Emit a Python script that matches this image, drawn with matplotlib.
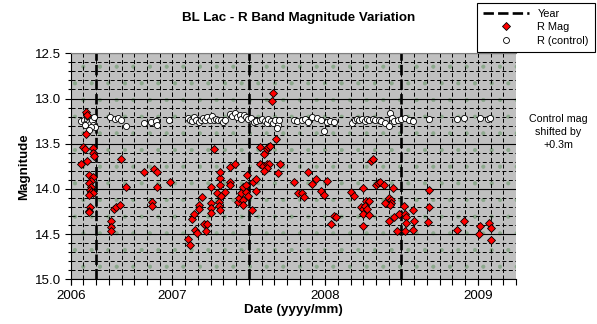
import matplotlib
matplotlib.use('Agg')
import matplotlib.pyplot as plt
from matplotlib.lines import Line2D
from matplotlib.patches import Rectangle
import numpy as np

plt.rcParams['font.family'] = ['Liberation Sans', 'DejaVu Sans']
plt.rcParams['lines.scale_dashes'] = False

# R band photometry of BL Lac (decimal year, magnitude)
rmag_year = [
    2006.434, 2006.438, 2006.436, 2006.416, 2006.429, 2006.403, 2006.443, 2006.482,
    2006.482, 2006.487, 2006.456, 2006.478, 2006.469, 2006.456, 2006.469, 2006.460,
    2006.465, 2006.478, 2006.456, 2006.460, 2006.456, 2006.456, 2006.596, 2006.596,
    2006.596, 2006.666, 2006.697, 2006.618, 2006.629, 2006.653, 2006.815, 2006.881,
    2006.899, 2006.899, 2006.864, 2006.864, 2006.982, 2007.101, 2007.114, 2007.127,
    2007.140, 2007.149, 2007.158, 2007.193, 2007.171, 2007.171, 2007.206, 2007.223,
    2007.219, 2007.254, 2007.254, 2007.254, 2007.254, 2007.272, 2007.289, 2007.302,
    2007.307, 2007.311, 2007.311, 2007.311, 2007.311, 2007.320, 2007.342, 2007.377,
    2007.377, 2007.377, 2007.412, 2007.429, 2007.438, 2007.451, 2007.460, 2007.465,
    2007.465, 2007.482, 2007.482, 2007.487, 2007.495, 2007.522, 2007.530, 2007.548,
    2007.548, 2007.570, 2007.570, 2007.601, 2007.616, 2007.627, 2007.642, 2007.675,
    2007.655, 2007.660, 2007.594, 2007.622, 2007.631, 2007.622, 2007.601, 2007.704,
    2007.688, 2007.798, 2007.820, 2007.851, 2007.859, 2007.886, 2007.916, 2007.943,
    2007.973, 2007.991, 2008.011, 2008.035, 2008.061, 2008.070, 2008.171, 2008.186,
    2008.245, 2008.302, 2008.311, 2008.267, 2008.285, 2008.232, 2008.245, 2008.258,
    2008.276, 2008.245, 2008.285, 2008.245, 2008.333, 2008.346, 2008.359, 2008.386,
    2008.447, 2008.416, 2008.429, 2008.434, 2008.425, 2008.390, 2008.421, 2008.451,
    2008.482, 2008.469, 2008.517, 2008.526, 2008.530, 2008.530, 2008.522, 2008.574,
    2008.583, 2008.574, 2008.679, 2008.679, 2008.675, 2008.864, 2008.910, 2009.013,
    2009.008, 2009.070, 2009.087, 2009.083,
]
rmag = [
    13.15, 13.18, 13.39, 13.54, 13.56, 13.73, 13.69, 13.55,
    13.60, 13.64, 13.85, 13.87, 13.91, 13.94, 13.98, 14.01,
    14.03, 14.05, 14.07, 14.20, 14.24, 14.26, 14.36, 14.42,
    14.47, 13.67, 13.98, 14.22, 14.20, 14.18, 13.81, 13.78,
    13.81, 13.98, 14.15, 14.19, 13.92, 14.55, 14.62, 14.33,
    14.28, 14.46, 14.49, 14.09, 14.18, 14.22, 14.39, 14.39,
    14.47, 13.98, 14.16, 14.21, 14.27, 13.56, 14.05, 14.14,
    14.19, 14.23, 13.96, 13.88, 13.81, 14.08, 14.03, 13.76,
    13.92, 13.96, 13.73, 14.15, 14.10, 14.04, 14.12, 14.18,
    13.98, 13.96, 14.03, 13.85, 14.08, 14.23, 13.92, 13.89,
    14.02, 13.54, 13.73, 13.61, 13.56, 13.54, 13.53, 13.45,
    13.03, 12.94, 13.75, 13.73, 13.72, 13.77, 13.80, 13.73,
    13.82, 13.92, 14.04, 14.04, 14.09, 13.81, 13.95, 13.89,
    14.02, 14.07, 13.91, 14.39, 14.30, 14.31, 14.03, 14.08,
    13.99, 13.69, 13.67, 14.13, 14.13, 14.20, 14.22, 14.19,
    14.22, 14.28, 14.29, 14.41, 13.96, 13.93, 13.92, 13.96,
    13.99, 14.10, 14.12, 14.16, 14.18, 14.16, 14.36, 14.31,
    14.28, 14.47, 14.19, 14.28, 14.31, 14.38, 14.47, 14.23,
    14.36, 14.46, 14.01, 14.20, 14.37, 14.46, 14.36, 14.41,
    14.50, 14.38, 14.43, 14.56,
]

# comparison star, raw magnitudes (plotted with an offset)
ctrl_year = [
    2006.403, 2006.421, 2006.432, 2006.443, 2006.454, 2006.460, 2006.469, 2006.476,
    2006.482, 2006.487, 2006.491, 2006.465, 2006.438, 2006.425, 2006.454, 2006.592,
    2006.625, 2006.640, 2006.666, 2006.697, 2006.815, 2006.859, 2006.892, 2006.899,
    2006.980, 2007.101, 2007.112, 2007.129, 2007.144, 2007.155, 2007.171, 2007.188,
    2007.199, 2007.215, 2007.228, 2007.243, 2007.258, 2007.272, 2007.287, 2007.298,
    2007.315, 2007.331, 2007.346, 2007.375, 2007.390, 2007.408, 2007.425, 2007.440,
    2007.451, 2007.469, 2007.484, 2007.495, 2007.517, 2007.535, 2007.550, 2007.572,
    2007.587, 2007.605, 2007.616, 2007.627, 2007.644, 2007.660, 2007.671, 2007.688,
    2007.682, 2007.697, 2007.798, 2007.813, 2007.846, 2007.868, 2007.886, 2007.916,
    2007.945, 2007.973, 2007.991, 2008.011, 2008.033, 2008.061, 2008.175, 2008.193,
    2008.208, 2008.223, 2008.241, 2008.258, 2008.274, 2008.285, 2008.311, 2008.329,
    2008.351, 2008.368, 2008.390, 2008.416, 2008.427, 2008.438, 2008.449, 2008.478,
    2008.500, 2008.526, 2008.548, 2008.574, 2008.679, 2008.866, 2008.910, 2009.013,
    2009.065, 2009.079,
]
ctrl_raw = [
    12.95, 12.94, 12.97, 12.93, 12.96, 12.98, 12.92, 12.94,
    12.99, 12.90, 13.01, 13.02, 12.89, 12.99, 13.05, 12.90,
    12.93, 12.92, 12.94, 13.00, 12.97, 12.96, 12.95, 12.99,
    12.94, 12.92, 12.94, 12.95, 12.91, 12.94, 12.96, 12.94,
    12.92, 12.94, 12.91, 12.94, 12.89, 12.94, 12.93, 12.94,
    12.94, 12.96, 12.94, 12.87, 12.89, 12.86, 12.91, 12.88,
    12.93, 12.88, 12.91, 12.93, 12.92, 12.96, 12.95, 12.94,
    12.93, 12.95, 12.97, 12.93, 12.95, 12.97, 12.94, 12.99,
    13.03, 12.94, 12.94, 12.95, 12.94, 12.93, 12.96, 12.90,
    12.92, 12.94, 13.06, 12.96, 12.95, 12.96, 12.97, 12.94,
    12.93, 12.94, 12.93, 12.95, 12.93, 12.94, 12.93, 12.94,
    12.94, 12.95, 12.97, 13.00, 12.86, 12.92, 12.95, 12.94,
    12.93, 12.92, 12.94, 12.95, 12.93, 12.93, 12.92, 12.92,
    12.93, 12.92,
]
ctrl_shift = 0.3

# season boundaries
year_lines = [2006.5, 2007.5, 2008.5]

x_start, x_end = 2006 + 4 / 12, 2009.25
year_ticks = [x_start, 2007, 2008, 2009]
year_labels = ['2006', '2007', '2008', '2009']

fig = plt.figure(figsize=(5.97, 3.24), dpi=100)
ax = fig.add_axes([70.7 / 597, 1 - 279.3 / 324, (516 - 70.7) / 597, (279.3 - 53.3) / 324])
ax.set_facecolor('#C0C0C0')
# speckled plot-area fill
plt.rcParams['hatch.linewidth'] = 0.5
ax.add_patch(Rectangle((0, 0), 1, 1, transform=ax.transAxes, facecolor='none',
                       edgecolor='#8CA88C', hatch='.', lw=0, zorder=0.5))

grid_dash = (0, (2.9, 1.8))
ax.set_xlim(x_start, x_end)
ax.set_ylim(15.0, 12.5)
ax.set_xticks(year_ticks)
ax.set_xticklabels(year_labels)
ax.set_xticks(x_start + np.arange(0, 36) / 12, minor=True)
ax.xaxis.remove_overlapping_locs = False
ax.set_yticks(np.arange(12.5, 15.01, 0.5))
ax.set_yticklabels(['%.1f' % v for v in np.arange(12.5, 15.01, 0.5)])
ax.set_yticks(np.arange(12.5, 15.01, 0.1), minor=True)

ax.grid(axis='x', which='both', color='black', lw=0.7, ls=grid_dash)
ax.grid(axis='y', which='minor', color='black', lw=0.7, ls=grid_dash)
ax.grid(axis='y', which='major', color='black', lw=0.8, ls='-')
ax.set_axisbelow(True)

ax.tick_params(axis='both', which='both', labelsize=9.6, width=0.8, color='black')
ax.tick_params(axis='x', which='both', direction='out', length=4, pad=4)
ax.tick_params(axis='y', which='major', direction='out', length=4, pad=3)
ax.tick_params(axis='y', which='minor', direction='out', length=2)

for s in ['left', 'bottom']:
    ax.spines[s].set_color('black')
    ax.spines[s].set_linewidth(0.8)
ax.spines['right'].set_visible(False)
ax.spines['top'].set_color('#808080')
ax.spines['top'].set_linewidth(0.8)

year_style = dict(color='black', lw=1.9, ls=(0, (7.5, 3.0)))
for yl in year_lines:
    ax.axvline(yl, zorder=2, **year_style)

ax.plot(ctrl_year, np.array(ctrl_raw) + ctrl_shift, ls='none', marker='o', ms=4.4,
        mfc='white', mec='black', mew=0.6, zorder=3)
ax.plot(rmag_year, rmag, ls='none', marker='D', ms=4.3, mfc='#FF0000',
        mec='black', mew=0.6, zorder=4)

ax.set_xlabel('Date (yyyy/mm)', fontsize=9.6, fontweight='bold', labelpad=1)
ax.set_ylabel('Magnitude', fontsize=9.6, fontweight='bold', labelpad=3)
fig.text(0.5, 1 - 18 / 324, 'BL Lac - R Band Magnitude Variation', ha='center', va='center',
         fontsize=9.6, fontweight='bold')
fig.text(558 / 597, 1 - 132 / 324, 'Control mag\nshifted by\n+0.3m', ha='center', va='center',
         fontsize=7.7, linespacing=1.35)

handles = [
    Line2D([], [], **year_style),
    Line2D([], [], ls='none', marker='D', ms=4.3, mfc='#FF0000', mec='black', mew=0.6),
    Line2D([], [], ls='none', marker='o', ms=4.3, mfc='white', mec='black', mew=0.6),
]
leg = fig.legend(handles, ['Year', 'R Mag', 'R (control)'], loc='upper right',
                 bbox_to_anchor=(595 / 597, 1 - 3 / 324), fontsize=7.9, frameon=True,
                 fancybox=False, edgecolor='black', framealpha=1, handlelength=4.2,
                 handletextpad=0.75, labelspacing=0.3, borderpad=0.55, borderaxespad=0)
leg.get_frame().set_linewidth(0.8)

fig.savefig('out.png', dpi=100)
